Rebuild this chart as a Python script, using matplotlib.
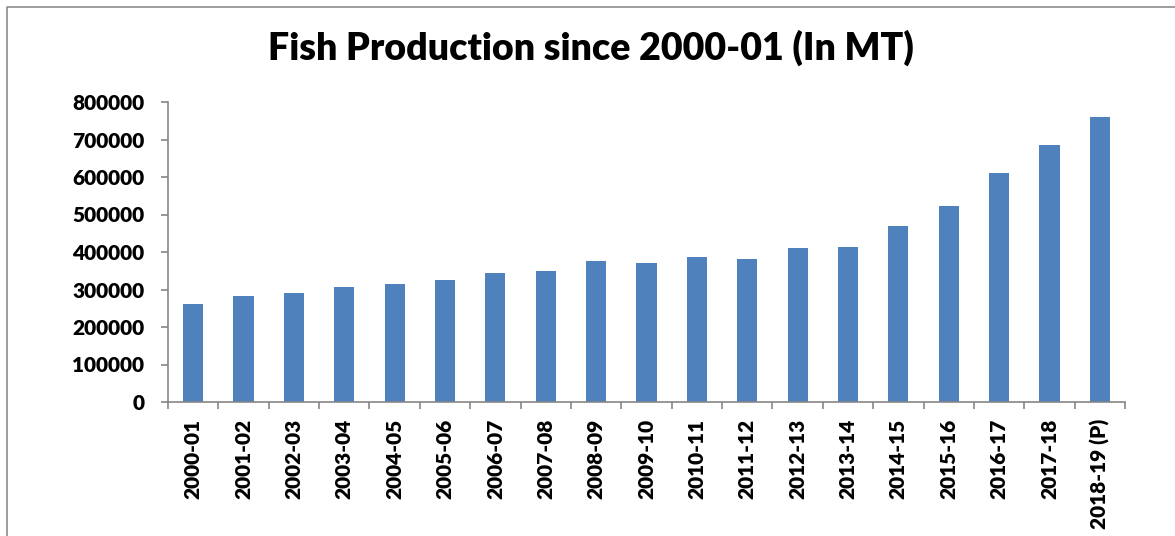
import numpy as np
import matplotlib.pyplot as plt
from matplotlib.lines import Line2D

years = ['2000-01', '2001-02', '2002-03', '2003-04', '2004-05', '2005-06',
         '2006-07', '2007-08', '2008-09', '2009-10', '2010-11', '2011-12',
         '2012-13', '2013-14', '2014-15', '2015-16', '2016-17', '2017-18',
         '2018-19 (P)']
production = [261000, 282000, 290000, 307000, 316000, 325000,
              343000, 350000, 375000, 371000, 386000, 382000,
              410000, 414000, 470000, 522000, 610000, 686000,
              760000]
yticks = [0, 100000, 200000, 300000, 400000, 500000, 600000, 700000, 800000]

plt.rcParams['font.family'] = ['Lato', 'DejaVu Sans']
plt.rcParams['font.weight'] = 'heavy'

fig = plt.figure(figsize=(11.75, 5.36), dpi=100)
ax = fig.add_axes([168 / 1175, 1 - 402 / 536, (1125 - 168) / 1175, 300 / 536])

x = np.arange(len(years))
ax.bar(x, production, width=0.4, color='#4F81BD', zorder=2)

ax.set_xlim(-0.5, len(years) - 0.5)
ax.set_ylim(0, 800000)
ax.set_yticks(yticks)
ax.set_yticklabels([str(v) for v in yticks], fontsize=15, fontweight='heavy')

ax.set_xticks(x)
ax.set_xticklabels(years, rotation=90, fontsize=15, fontweight='heavy',
                   ha='center', va='top')
ax.set_xticks(np.arange(len(years) + 1) - 0.5, minor=True)
ax.tick_params(axis='x', which='major', length=0, pad=12)
ax.tick_params(axis='x', which='minor', length=5, width=1.2, color='#868686')
ax.tick_params(axis='y', length=5, width=1.2, color='#868686', pad=12)

for side in ['top', 'right']:
    ax.spines[side].set_visible(False)
for side in ['left', 'bottom']:
    ax.spines[side].set_color('#868686')
    ax.spines[side].set_linewidth(1.2)

fig.text(0.503, 1 - 60 / 536, 'Fish Production since 2000-01 (In MT)',
         ha='center', va='baseline', fontsize=27, fontweight='heavy')

# outer chart frame (left and top edges visible)
fx = 7 / 1175
fy = 1 - 7 / 536
fig.add_artist(Line2D([fx, fx, 1.0], [0.0, fy, fy], transform=fig.transFigure,
                      color='#8c8c8c', linewidth=1.2))

fig.savefig('out.png', dpi=100)
